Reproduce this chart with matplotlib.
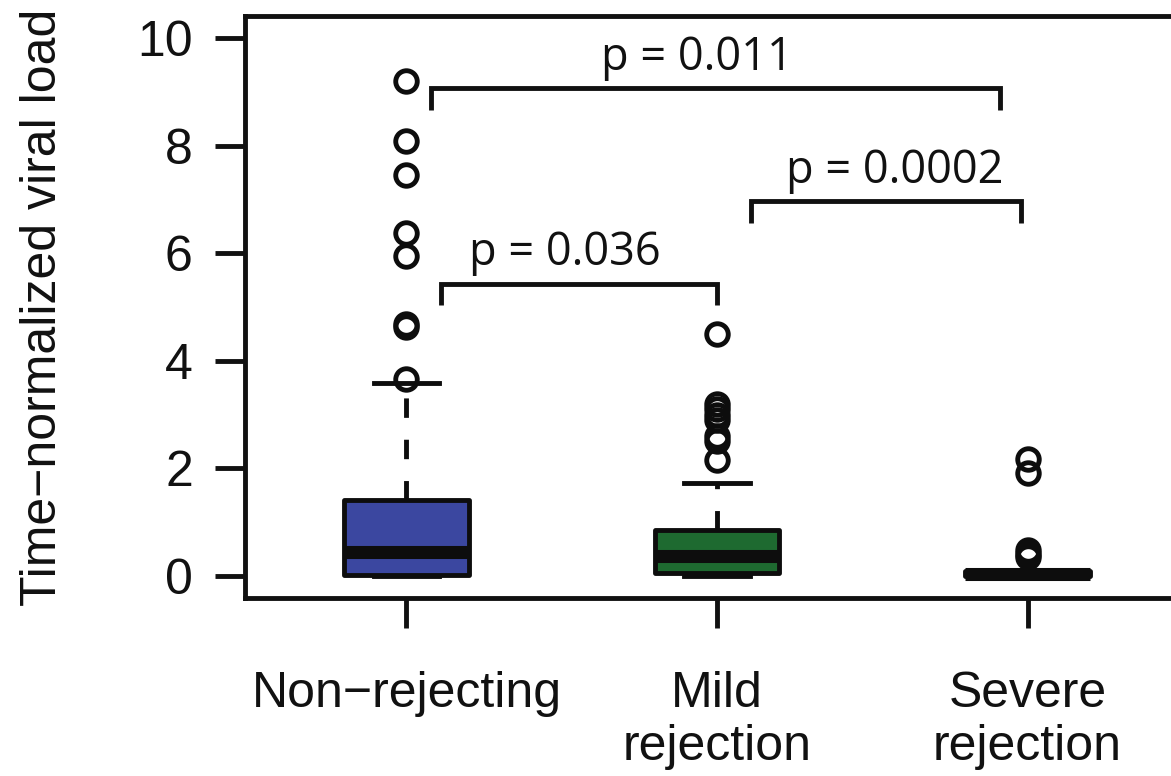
import matplotlib
matplotlib.use('Agg')
import matplotlib.pyplot as plt

# Group labels and colours
groups = ['Non\u2212rejecting', 'Mild\nrejection', 'Severe\nrejection']
box_colors = ['#3B47A0', '#1E6A30', '#151515']

# Box statistics
q1 = [0.02, 0.06, 0.0]
medians = [0.45, 0.38, 0.03]
q3 = [1.42, 0.86, 0.10]
whisk_lo = [0.0, 0.0, 0.0]
whisk_hi = [3.59, 1.72, 0.10]
outliers = [
    [9.2, 8.08, 7.45, 6.38, 5.95, 4.68, 4.62, 3.66],
    [4.5, 3.2, 3.1, 3.0, 2.9, 2.6, 2.5, 2.15],
    [2.18, 1.92, 0.48, 0.40, 0.35],
]

# Significance brackets
p_labels = ['p = 0.011', 'p = 0.0002', 'p = 0.036']
p_label_x = [1.935, 2.574, 1.51]
bracket_x1 = [1.08, 2.11, 1.11]
bracket_x2 = [2.91, 2.98, 2.0]
bracket_y = [9.07, 6.97, 5.43]
bracket_drop = 0.40

plt.rcParams['font.family'] = ['Liberation Sans', 'DejaVu Sans']

fig = plt.figure(figsize=(11.71, 7.76), dpi=100)
ax = fig.add_axes([245 / 1171, 1 - 598 / 776, (1189 - 245) / 1171, (598 - 16) / 776])

positions = [1, 2, 3]
stats = []
for i in range(3):
    stats.append(dict(med=medians[i], q1=q1[i], q3=q3[i],
                      whislo=whisk_lo[i], whishi=whisk_hi[i],
                      fliers=outliers[i], label=groups[i]))

lw = 3.5
bp = ax.bxp(stats, positions=positions, widths=0.40, capwidths=0.21,
            patch_artist=True, showfliers=True,
            boxprops=dict(linewidth=lw, edgecolor='#0d0d0d', joinstyle='round'),
            medianprops=dict(color='#0d0d0d', linewidth=9.4, solid_capstyle='butt'),
            whiskerprops=dict(color='#0d0d0d', linewidth=lw, linestyle=(0, (4, 4.5))),
            capprops=dict(color='#0d0d0d', linewidth=lw),
            flierprops=dict(marker='o', markerfacecolor='none', markeredgecolor='#0d0d0d',
                            markersize=15.5, markeredgewidth=lw))
for patch, c in zip(bp['boxes'], box_colors):
    patch.set_facecolor(c)

# brackets with p-values
for x1, x2, y, tx, lab in zip(bracket_x1, bracket_x2, bracket_y, p_label_x, p_labels):
    ax.plot([x1, x1, x2, x2], [y - bracket_drop, y, y, y - bracket_drop],
            color='#111111', linewidth=lw, solid_joinstyle='miter', solid_capstyle='butt',
            clip_on=False)
    ax.text(tx, y + 0.14, lab, ha='center', va='bottom',
            fontsize=32.5, family=['Open Sans', 'DejaVu Sans'], color='#111111')

ax.set_xlim(0.48, 3.52)
ax.set_ylim(-0.41, 10.41)
ax.set_yticks([0, 2, 4, 6, 8, 10])
ax.set_xticks(positions)
ax.set_xticklabels(groups)

for s in ax.spines.values():
    s.set_linewidth(lw)
    s.set_color('#111111')

ax.tick_params(axis='both', direction='out', length=21.6, width=lw,
               colors='#111111', labelsize=36)
ax.tick_params(axis='y', pad=16)
ax.tick_params(axis='x', pad=31)

ax.set_ylabel('Time\u2212normalized viral load', fontsize=36, color='#111111')
ax.yaxis.set_label_coords(-0.19, 0.5)

fig.savefig('out.png', dpi=100)
